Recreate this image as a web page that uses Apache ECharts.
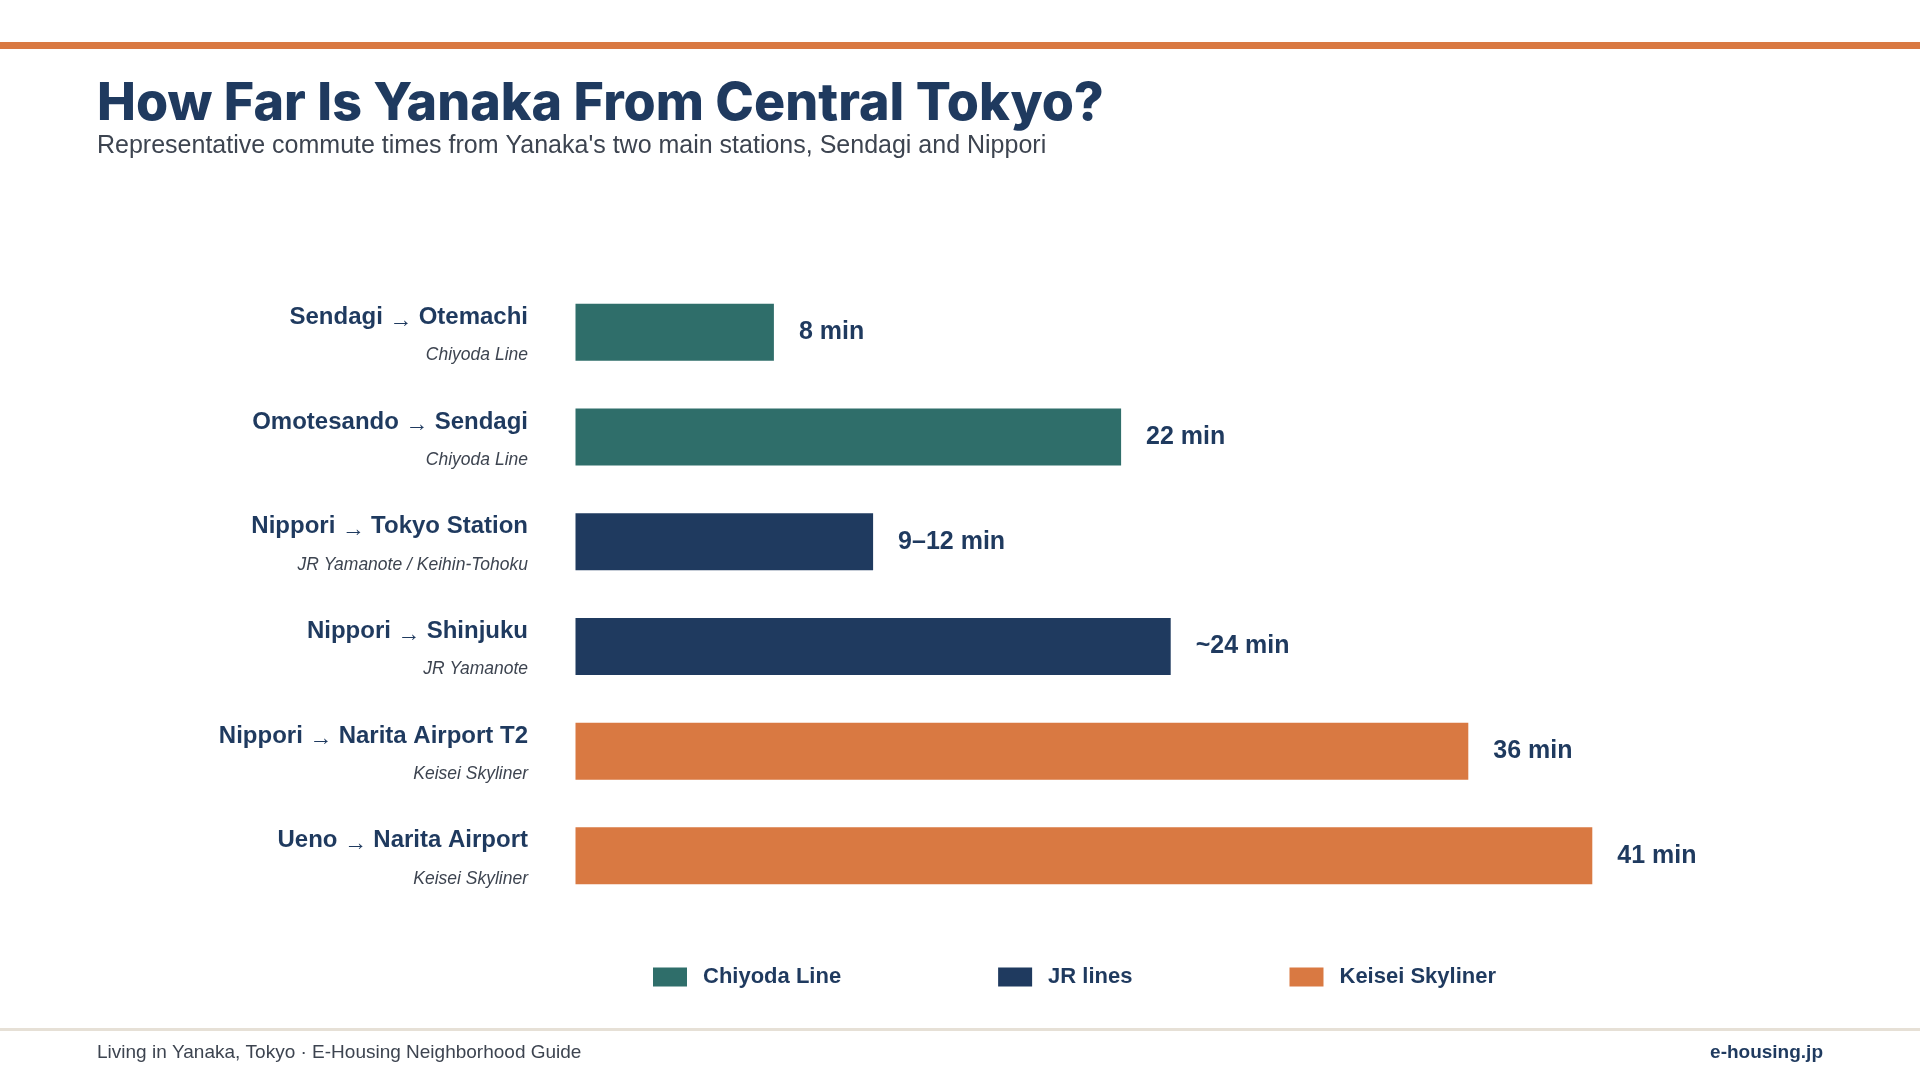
<!DOCTYPE html>
<html>
<head>
<meta charset="utf-8">
<script src="https://cdn.jsdelivr.net/npm/echarts@6/dist/echarts.min.js"></script>
<style>
  html, body { margin: 0; padding: 0; background: #fff; }
  #chart { width: 1920px; height: 1080px; }
</style>
</head>
<body>
<div id="chart"></div>
<script>
var origins = ['Sendagi', 'Omotesando', 'Nippori', 'Nippori', 'Nippori', 'Ueno'];
var destinations = ['Otemachi', 'Sendagi', 'Tokyo Station', 'Shinjuku', 'Narita Airport T2', 'Narita Airport'];
var lineNames = ['Chiyoda Line', 'Chiyoda Line', 'JR Yamanote / Keihin-Tohoku', 'JR Yamanote', 'Keisei Skyliner', 'Keisei Skyliner'];
var groups = ['Chiyoda Line', 'Chiyoda Line', 'JR lines', 'JR lines', 'Keisei Skyliner', 'Keisei Skyliner'];
var minutes = [8, 22, 12, 24, 36, 41];
var timeLabels = ['8 min', '22 min', '9–12 min', '~24 min', '36 min', '41 min'];
var legendNames = ['Chiyoda Line', 'JR lines', 'Keisei Skyliner'];
var colors = ['#2f6e6a', '#1f3a5f', '#d97942'];

var navy = '#1f3a5f';
var font = "'Liberation Sans', Arial, sans-serif";

var categories = origins.map(function (o, i) { return i; });

var chart = echarts.init(document.getElementById('chart'));

// one series per line group, stacked so each row keeps its own colour
var series = legendNames.map(function (name, k) {
    return {
        name: name,
        type: 'bar',
        stack: 'total',
        barWidth: 57,
        itemStyle: { color: colors[k] },
        label: {
            show: true,
            position: 'right',
            distance: 25,
            fontFamily: font,
            fontSize: 25,
            fontWeight: 'bold',
            color: navy,
            formatter: function (p) { return timeLabels[p.dataIndex]; }
        },
        data: minutes.map(function (v, i) { return groups[i] === name ? v : '-'; })
    };
});

chart.setOption({
    animation: false,
    color: colors,
    grid: {
        left: 575.5,
        right: 104.5,
        top: 280,
        height: 628.2,
        containLabel: false
    },
    xAxis: {
        type: 'value',
        min: 0,
        max: 50,
        show: false
    },
    yAxis: {
        type: 'category',
        inverse: true,
        data: categories,
        axisLine: { show: false },
        axisTick: { show: false },
        axisLabel: {
            margin: 47.5,
            align: 'right',
            formatter: function (v, i) {
                return '{m|' + origins[i] + '}{a| → }{m|' + destinations[i] + '}\n{s|' + lineNames[i] + '}';
            },
            rich: {
                m: { fontFamily: font, fontSize: 24, fontWeight: 'bold', color: navy, lineHeight: 46, align: 'right' },
                a: { fontFamily: font, fontSize: 23, color: navy, lineHeight: 46, align: 'right', padding: [6, 0, 0, 0] },
                s: { fontFamily: font, fontSize: 17.5, fontStyle: 'italic', color: '#3d4450', lineHeight: 30, align: 'right' }
            }
        }
    },
    legend: {
        data: legendNames,
        left: 648,
        top: 961,
        icon: 'rect',
        itemWidth: 34,
        itemHeight: 19,
        itemGap: 157,
        textStyle: { fontFamily: font, fontSize: 22, fontWeight: 'bold', color: navy, padding: [0, 0, 0, 11] }
    },
    graphic: [
        { type: 'rect', left: 0, top: 42, shape: { width: 1920, height: 7 }, style: { fill: '#d97942' } },
        {
            type: 'text', left: 97, top: 78,
            style: { text: 'How Far Is Yanaka From Central Tokyo?', fontFamily: "Inter, 'Noto Sans', sans-serif", fontWeight: 800, fontSize: 52, fill: navy }
        },
        {
            type: 'text', left: 97, top: 134,
            style: { text: "Representative commute times from Yanaka's two main stations, Sendagi and Nippori", fontFamily: font, fontSize: 25, fill: '#3d4450' }
        },
        { type: 'rect', left: 0, top: 1028, shape: { width: 1920, height: 3 }, style: { fill: '#e6e0d6' } },
        {
            type: 'text', left: 97, top: 1043,
            style: { text: 'Living in Yanaka, Tokyo · E-Housing Neighborhood Guide', fontFamily: font, fontSize: 19, fill: '#3d4450' }
        },
        {
            type: 'text', right: 97, top: 1043,
            style: { text: 'e-housing.jp', fontFamily: font, fontSize: 19, fontWeight: 'bold', fill: navy }
        }
    ],
    series: series
});
</script>
</body>
</html>
